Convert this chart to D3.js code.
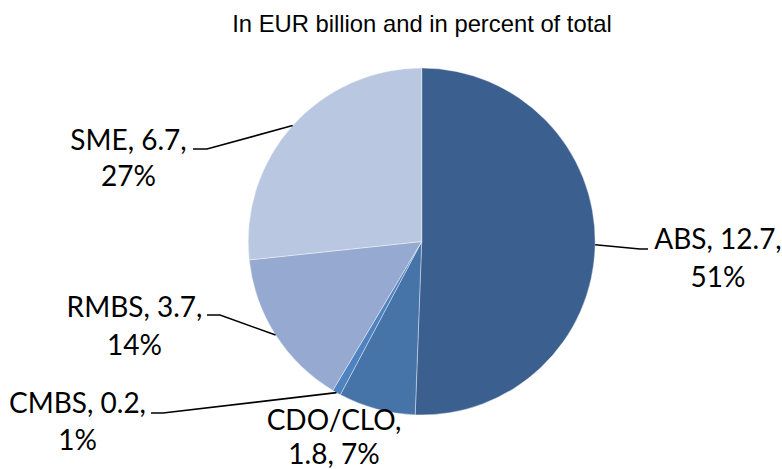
<!DOCTYPE html>
<html>
<head>
<meta charset="utf-8">
<script src="https://cdn.jsdelivr.net/npm/d3@7"></script>
<style>
  html, body { margin: 0; padding: 0; background: #ffffff; }
  svg { display: block; }
</style>
</head>
<body>
<svg id="chart" width="782" height="469"></svg>
<script>
// ---- data ----
const title = "In EUR billion and in percent of total";
const categories = ["ABS", "CDO/CLO", "CMBS", "RMBS", "SME"];
const values = [12.7, 1.8, 0.2, 3.7, 6.7];
const percentLabels = ["51%", "7%", "1%", "14%", "27%"];
const colors = ["#3B5F8E", "#4673A8", "#4F82C0", "#96AAD1", "#BAC7E0"];

// ---- layout (label placement) ----
const labelLayout = {
  "ABS":     { x: 718,   y: 249, gap: 38, lines: d => [`${d.cat}, ${d.val},`, d.pct], leader: [[640, 249], [648, 249]] },
  "CDO/CLO": { x: 334,   y: 430, gap: 34, lines: d => [`${d.cat},`, `${d.val}, ${d.pct}`], leader: null },
  "CMBS":    { x: 77.5,  y: 413, gap: 37, lines: d => [`${d.cat}, ${d.val},`, d.pct], leader: [[163, 413], [151, 413]] },
  "RMBS":    { x: 134.5, y: 317, gap: 38, lines: d => [`${d.cat}, ${d.val},`, d.pct], leader: [[220, 315], [207, 315]] },
  "SME":     { x: 128.5, y: 150, gap: 36, lines: d => [`${d.cat}, ${d.val},`, d.pct], leader: [[207, 149], [193, 149]] }
};

const svg = d3.select("#chart");
const cx = 421.7, cy = 241.5, r = 173.5;

svg.append("text")
  .attr("x", 422).attr("y", 32)
  .attr("text-anchor", "middle")
  .attr("font-family", "Liberation Sans, Arial, sans-serif")
  .attr("font-size", 23.8)
  .attr("fill", "#000")
  .text(title);

const rows = categories.map((c, i) => ({ cat: c, val: values[i].toFixed(1), v: values[i], pct: percentLabels[i], color: colors[i] }));

const pie = d3.pie().sort(null).value(d => d.v).startAngle(0).endAngle(2 * Math.PI);
const arcs = pie(rows);
const arc = d3.arc().innerRadius(0).outerRadius(r);
const edgeArc = d3.arc().innerRadius(r).outerRadius(r);

const g = svg.append("g").attr("transform", `translate(${cx},${cy})`);
g.selectAll("path.slice")
  .data(arcs)
  .join("path")
  .attr("class", "slice")
  .attr("d", arc)
  .attr("fill", d => d.data.color)
  .attr("stroke", "#ffffff")
  .attr("stroke-width", 0.4);

// leaders
const line = d3.line();
arcs.forEach(a => {
  const L = labelLayout[a.data.cat];
  if (!L.leader) return;
  const c = edgeArc.centroid(a);
  const p0 = [cx + c[0], cy + c[1]];
  svg.append("path")
    .attr("d", line([p0, ...L.leader]))
    .attr("fill", "none")
    .attr("stroke", "#000")
    .attr("stroke-width", 1.6);
});

// labels
arcs.forEach(a => {
  const L = labelLayout[a.data.cat];
  const t = svg.append("text")
    .attr("text-anchor", "middle")
    .attr("font-family", "Lato, 'Open Sans', sans-serif")
    .attr("font-size", 28)
    .attr("fill", "#000");
  L.lines(a.data).forEach((s, i) => {
    t.append("tspan").attr("x", L.x).attr("y", L.y + i * L.gap).text(s);
  });
});
</script>
</body>
</html>
